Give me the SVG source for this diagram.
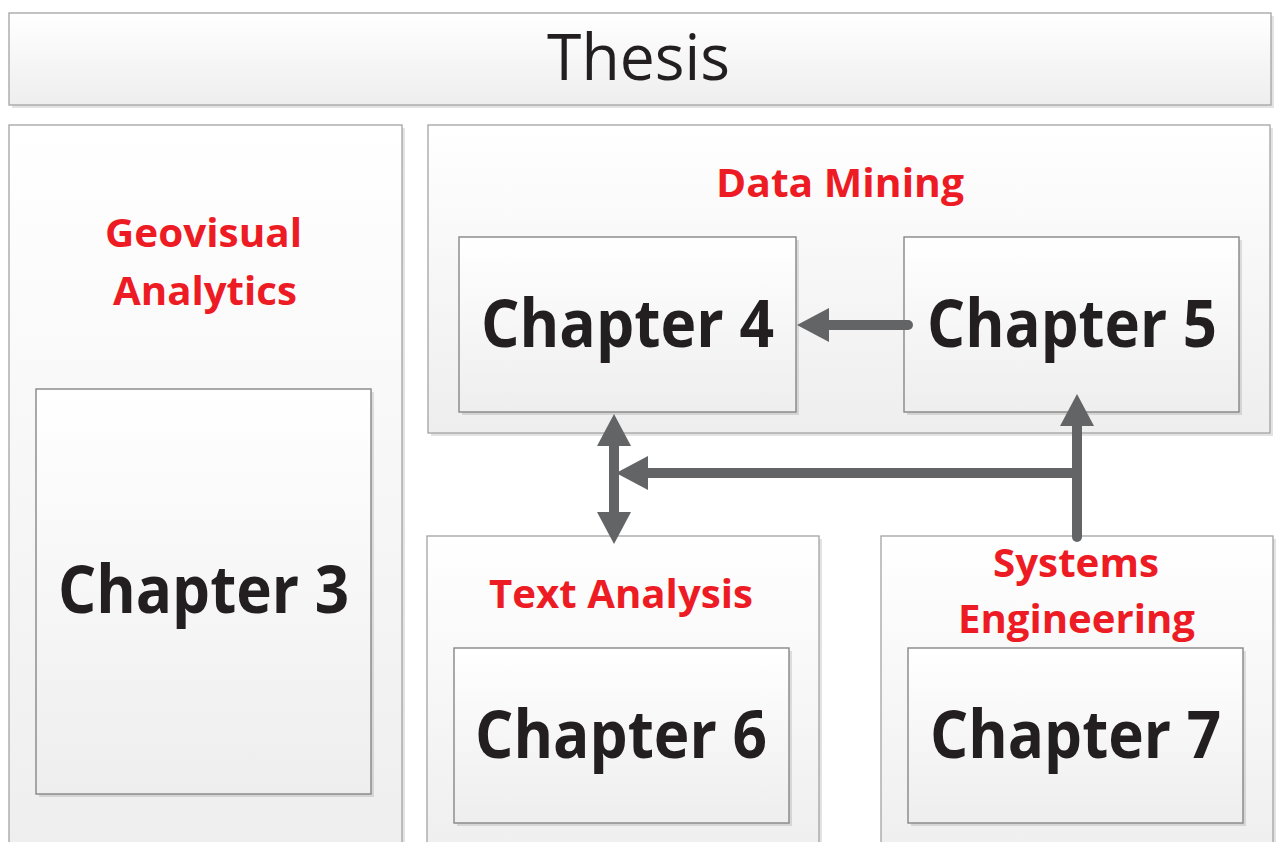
<svg xmlns="http://www.w3.org/2000/svg" width="1279" height="842" viewBox="0 0 1279 842">
  <defs>
    <linearGradient id="g" x1="0" y1="0" x2="0" y2="1">
      <stop offset="0" stop-color="#ffffff"/>
      <stop offset="1" stop-color="#eeeeee"/>
    </linearGradient>
    <marker id="ah" viewBox="0 0 32 34" refX="0" refY="17" markerWidth="32" markerHeight="34" markerUnits="userSpaceOnUse" orient="auto-start-reverse">
      <path d="M0,0 L32,17 L0,34 Z" fill="#636466"/>
    </marker>
    <style>
      .outer { fill: url(#g); stroke: #a3a3a3; stroke-width: 1.3; }
      .inner { fill: url(#g); stroke: #878787; stroke-width: 1.4; }
      .shadow { fill: #000; opacity: 0.11; }
      .title { font-family: "Open Sans", "Noto Sans", sans-serif; font-size: 64px; fill: #231f20; }
      .chap { font-family: "Open Sans", "Noto Sans", sans-serif; font-weight: bold; font-size: 67px; fill: #231f20; }
      .sect { font-family: "Open Sans", "Noto Sans", sans-serif; font-weight: bold; font-size: 40px; fill: #ed1c24; }
      .conn { fill: none; stroke: #636466; stroke-width: 10; stroke-linecap: round; }
    </style>
  </defs>
  <rect width="1279" height="842" fill="#ffffff"/>

  <g id="thesis">
    <rect class="shadow" x="12" y="16" width="1262" height="92"/>
    <rect class="outer" x="9" y="13" width="1262" height="92"/>
    <text class="title" x="547" y="80" textLength="183" lengthAdjust="spacingAndGlyphs">Thesis</text>
  </g>

  <g id="geovisual-analytics">
    <rect class="shadow" x="12" y="128" width="393" height="740"/>
    <rect class="outer" x="9" y="125" width="393" height="740"/>
    <text class="sect" x="105" y="247" textLength="197" lengthAdjust="spacingAndGlyphs">Geovisual</text>
    <text class="sect" x="113" y="305" textLength="184" lengthAdjust="spacingAndGlyphs">Analytics</text>
  </g>

  <g id="data-mining">
    <rect class="shadow" x="431" y="128" width="842" height="308"/>
    <rect class="outer" x="428" y="125" width="842" height="308"/>
    <text class="sect" x="716" y="197" textLength="248" lengthAdjust="spacingAndGlyphs">Data Mining</text>
  </g>

  <g id="text-analysis">
    <rect class="shadow" x="430" y="539" width="392" height="330"/>
    <rect class="outer" x="427" y="536" width="392" height="330"/>
    <text class="sect" x="489" y="608" textLength="264" lengthAdjust="spacingAndGlyphs">Text Analysis</text>
  </g>

  <g id="systems-engineering">
    <rect class="shadow" x="884" y="539" width="392" height="330"/>
    <rect class="outer" x="881" y="536" width="392" height="330"/>
    <text class="sect" x="993" y="577" textLength="166" lengthAdjust="spacingAndGlyphs">Systems</text>
    <text class="sect" x="958" y="633" textLength="237" lengthAdjust="spacingAndGlyphs">Engineering</text>
  </g>

  <g id="chapter3">
    <rect class="shadow" x="39" y="392" width="335" height="405"/>
    <rect class="inner" x="36" y="389" width="335" height="405"/>
    <text class="chap" x="58" y="613" textLength="291" lengthAdjust="spacingAndGlyphs">Chapter 3</text>
  </g>

  <g id="chapter4">
    <rect class="shadow" x="462" y="240" width="337" height="175"/>
    <rect class="inner" x="459" y="237" width="337" height="175"/>
    <text class="chap" x="481" y="347" textLength="293" lengthAdjust="spacingAndGlyphs">Chapter 4</text>
  </g>

  <g id="chapter5">
    <rect class="shadow" x="907" y="240" width="335" height="175"/>
    <rect class="inner" x="904" y="237" width="335" height="175"/>
    <text class="chap" x="927" y="347" textLength="290" lengthAdjust="spacingAndGlyphs">Chapter 5</text>
  </g>

  <g id="chapter6">
    <rect class="shadow" x="457" y="651" width="335" height="175"/>
    <rect class="inner" x="454" y="648" width="335" height="175"/>
    <text class="chap" x="475" y="758" textLength="292" lengthAdjust="spacingAndGlyphs">Chapter 6</text>
  </g>

  <g id="chapter7">
    <rect class="shadow" x="911" y="651" width="335" height="175"/>
    <rect class="inner" x="908" y="648" width="335" height="175"/>
    <text class="chap" x="930" y="758" textLength="291" lengthAdjust="spacingAndGlyphs">Chapter 7</text>
  </g>

  <g id="connectors">
    <path class="conn" d="M908,325 L829,325" marker-end="url(#ah)"/>
    <path class="conn" d="M614,446 L614,512" stroke-linecap="butt" style="stroke-linecap:butt" marker-start="url(#ah)" marker-end="url(#ah)"/>
    <path class="conn" d="M1077,537 L1077,426" marker-end="url(#ah)"/>
    <path class="conn" d="M1077,473 L648,473" style="stroke-linecap:butt" marker-end="url(#ah)"/>
  </g>
</svg>
